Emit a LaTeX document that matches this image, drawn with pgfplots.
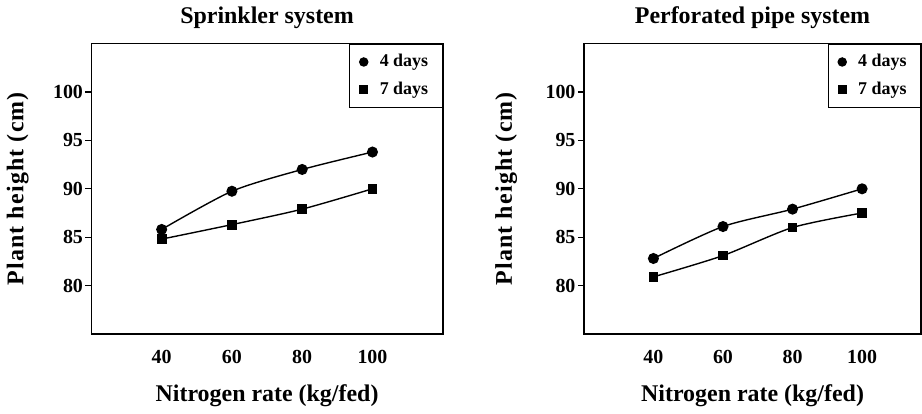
\documentclass[border=0pt]{standalone}
\usepackage{fontspec}
\setmainfont{Liberation Serif}
\usepackage{pgfplots}
\pgfplotsset{compat=1.18}

\pgfplotsset{
  panel/.style={
    scale only axis, height=145bp,
    xmin=20, ymin=75, ymax=105,
    xtick={40,60,80,100}, ytick={80,85,90,95,100},
    /pgf/number format/assume math mode=true,
    tick label style={font=\fontsize{10}{12}\selectfont\bfseries},
    xtick style={draw=none},
    ytick style={black, line width=0.6pt},
    tick pos=left, tick align=outside, major tick length=3bp,
    xticklabel style={yshift=-1.5bp},
    yticklabel style={inner sep=1bp},
    axis line style={line width=0.8pt},
    title style={font=\fontsize{12}{14}\selectfont\bfseries, yshift=-2bp},
    label style={font=\fontsize{12}{14}\selectfont\bfseries},
    xlabel style={at={(axis description cs:0.5,0)}, anchor=center, yshift=-31bp},
    xlabel={Nitrogen rate (kg/fed)},
    ylabel={\addfontfeatures{LetterSpace=5}Plant height (cm)},
    legend style={at={(1,1)}, anchor=north east, draw=black, line width=0.6pt,
      font=\fontsize{9}{10}\selectfont\bfseries, cells={anchor=west},
      inner xsep=5bp, inner ysep=3bp, row sep=2bp,
      /tikz/every odd column/.append style={column sep=4bp}},
    every axis plot/.append style={black, line width=0.7pt, smooth, tension=0.45},
  },
}

\begin{document}
\begin{tikzpicture}
% left panel
\begin{axis}[panel, at={(0bp,0bp)}, width=175.5bp, xmax=120,
  title={Sprinkler system},
  ylabel style={at={(axis description cs:-0.21,0.5)}, anchor=center}]
\addlegendimage{only marks, mark=*, mark size=2bp}
\addlegendimage{only marks, mark=square*, mark size=1.8bp}
\addplot[mark=*, mark size=2.4bp] coordinates {(40,85.8) (60,89.75) (80,92.0) (100,93.8)};
\addplot[mark=square*, mark size=2.1bp] coordinates {(40,84.8) (60,86.3) (80,87.9) (100,90.0)};
\legend{4 days, 7 days}
\end{axis}
% right panel
\begin{axis}[panel, at={(246bp,0bp)}, width=168.5bp, xmax=117,
  title={Perforated pipe system},
  ylabel style={at={(axis description cs:-0.23,0.5)}, anchor=center}]
\addlegendimage{only marks, mark=*, mark size=2bp}
\addlegendimage{only marks, mark=square*, mark size=1.8bp}
\addplot[mark=*, mark size=2.4bp] coordinates {(40,82.8) (60,86.1) (80,87.9) (100,90.0)};
\addplot[mark=square*, mark size=2.1bp] coordinates {(40,80.9) (60,83.1) (80,86.0) (100,87.5)};
\legend{4 days, 7 days}
\end{axis}
\end{tikzpicture}
\end{document}
